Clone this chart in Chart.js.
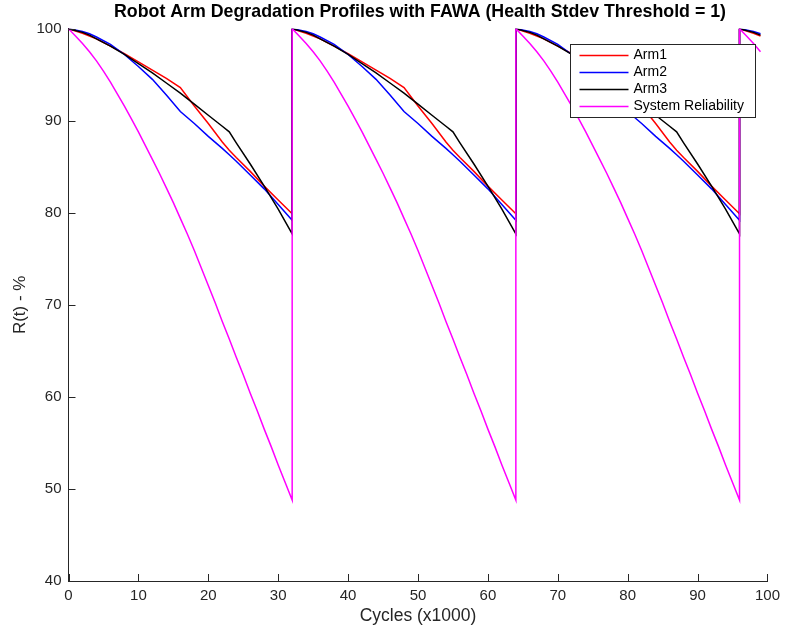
<!DOCTYPE html>
<html>
<head>
<meta charset="utf-8">
<title>Robot Arm Degradation Profiles</title>
<script src="https://cdn.jsdelivr.net/npm/chart.js@4.4.1/dist/chart.umd.min.js"></script>
<style>
  html, body { margin: 0; padding: 0; background: #fff; }
  #wrap { width: 786px; height: 629px; }
</style>
</head>
<body>
<div id="wrap"><canvas id="chart" width="786" height="629"></canvas></div>
<script>
// one maintenance cycle (x1000 cycles since the last reset)
const armX      = [0, 2, 3, 4, 6, 8, 10, 12, 14, 16, 18, 20, 22, 23, 24, 26, 28, 30, 32];
const arm1Cycle = [100, 99.5, 99.2, 98.9, 98.1, 97.3, 96.4, 95.5, 94.6, 93.6, 91.6, 89.7, 87.7, 86.8, 86.0, 84.5, 82.9, 81.4, 79.9];
const arm2Cycle = [100, 99.7, 99.45, 99.1, 98.3, 97.2, 95.9, 94.5, 92.8, 91.0, 89.7, 88.3, 87.0, 86.3, 85.6, 84.1, 82.6, 80.9, 79.2];
const arm3Cycle = [100, 99.6, 99.3, 98.9, 98.1, 97.2, 96.2, 95.2, 94.1, 93.0, 91.8, 90.6, 89.4, 88.8, 87.6, 85.3, 82.9, 80.4, 77.7];

// system curve is smooth, so it is read at every 1k cycles
const systemX     = [0, 1, 2, 3, 4, 5, 6, 7, 8, 9, 10, 11, 12, 13, 14, 15, 16,
                     17, 18, 19, 20, 21, 22, 23, 24, 25, 26, 27, 28, 29, 30, 31, 32];
const systemCycle = [100, 99.2, 98.4, 97.5, 96.5, 95.4, 94.2, 92.9, 91.6, 90.2, 88.8, 87.3, 85.8, 84.3, 82.7, 81.1, 79.4,
                     77.7, 75.9, 74.0, 72.1, 70.2, 68.2, 66.3, 64.3, 62.4, 60.4, 58.5, 56.5, 54.6, 52.6, 50.7, 48.8];

// resets happen every 32k cycles, the run stops at 99k
const cycleStarts = [0, 32, 64, 96];
const lastCycle = 99;

const seriesNames  = ['Arm1', 'Arm2', 'Arm3', 'System Reliability'];
const seriesColors = ['#ff0000', '#0000ff', '#000000', '#ff00ff'];

const xTicks = [0, 10, 20, 30, 40, 50, 60, 70, 80, 90, 100];
const yTicks = [40, 50, 60, 70, 80, 90, 100];

const titleText = 'Robot Arm Degradation Profiles with FAWA (Health Stdev Threshold = 1)';
const axisColor = '#262626';
const fontFamily = '"Liberation Sans", Arial, sans-serif';

// 주기 데이터를 x/y 포인트로 펼치기
function unroll(xs, values) {
    const pts = [];
    cycleStarts.forEach(s => {
        xs.forEach((cx, i) => {
            if (s + cx <= lastCycle) pts.push({ x: s + cx, y: values[i] });
        });
    });
    return pts;
}

const seriesPoints = [
    unroll(armX, arm1Cycle),
    unroll(armX, arm2Cycle),
    unroll(armX, arm3Cycle),
    unroll(systemX, systemCycle)
];

// title centred over the plot box, as in the original figure
const plotTitle = {
    id: 'plotTitle',
    afterDraw(chart) {
        const { ctx, chartArea } = chart;
        ctx.save();
        ctx.font = 'bold 17.8px ' + fontFamily;
        ctx.fillStyle = '#000000';
        ctx.textAlign = 'center';
        ctx.textBaseline = 'middle';
        ctx.fillText(titleText, (chartArea.left + chartArea.right) / 2 + 2, 12);
        ctx.restore();
    }
};

// inward tick marks
const innerTicks = {
    id: 'innerTicks',
    afterDatasetsDraw(chart) {
        const { ctx, chartArea, scales } = chart;
        const len = 7;
        ctx.save();
        ctx.strokeStyle = axisColor;
        ctx.lineWidth = 1;
        ctx.beginPath();
        xTicks.forEach(v => {
            const px = Math.round(scales.x.getPixelForValue(v)) + 0.5;
            ctx.moveTo(px, chartArea.bottom);
            ctx.lineTo(px, chartArea.bottom - len);
        });
        yTicks.forEach(v => {
            const py = Math.round(scales.y.getPixelForValue(v)) + 0.5;
            ctx.moveTo(chartArea.left, py);
            ctx.lineTo(chartArea.left + len, py);
        });
        ctx.stroke();
        ctx.restore();
    }
};

// boxed legend in the upper right corner
const boxLegend = {
    id: 'boxLegend',
    afterDraw(chart) {
        const ctx = chart.ctx;
        const left = 570.5, top = 44.5, w = 185, h = 73;
        ctx.save();
        ctx.fillStyle = '#ffffff';
        ctx.fillRect(left, top, w, h);
        ctx.strokeStyle = axisColor;
        ctx.lineWidth = 1;
        ctx.strokeRect(left, top, w, h);
        ctx.font = '14px ' + fontFamily;
        ctx.textBaseline = 'middle';
        chart.data.datasets.forEach((ds, i) => {
            const y = top + 11 + i * 17;
            ctx.strokeStyle = ds.borderColor;
            ctx.lineWidth = 1.5;
            ctx.beginPath();
            ctx.moveTo(left + 9, y);
            ctx.lineTo(left + 58, y);
            ctx.stroke();
            ctx.fillStyle = '#000000';
            ctx.fillText(ds.label, left + 63, y);
        });
        ctx.restore();
    }
};

const datasets = seriesNames.map((name, i) => ({
    label: name,
    data: seriesPoints[i],
    borderColor: seriesColors[i],
    backgroundColor: seriesColors[i],
    borderWidth: 1.5,
    pointRadius: 0,
    tension: 0,
    fill: false,
    order: seriesNames.length - i
}));

new Chart(document.getElementById('chart'), {
    type: 'line',
    data: { datasets: datasets },
    options: {
        responsive: false,
        animation: false,
        events: [],
        layout: { padding: { top: 28.7, right: 17.5, bottom: 0, left: 0 } },
        scales: {
            x: {
                type: 'linear',
                min: 0,
                max: 100,
                afterBuildTicks: s => { s.ticks = xTicks.map(v => ({ value: v })); },
                afterFit: s => { s.height = 48; },
                grid: { display: false, drawTicks: false },
                border: { display: true, color: axisColor, width: 1 },
                ticks: {
                    padding: 6,
                    color: axisColor,
                    maxRotation: 0,
                    autoSkip: false,
                    font: { family: fontFamily, size: 15 }
                },
                title: {
                    display: true,
                    text: 'Cycles (x1000)',
                    color: axisColor,
                    padding: { top: 0, bottom: 2 },
                    font: { family: fontFamily, size: 17.5 }
                }
            },
            y: {
                type: 'linear',
                min: 40,
                max: 100,
                afterBuildTicks: s => { s.ticks = yTicks.map(v => ({ value: v })); },
                afterFit: s => { s.width = 68.5; },
                grid: { display: false, drawTicks: false },
                border: { display: true, color: axisColor, width: 1 },
                ticks: {
                    padding: 7,
                    color: axisColor,
                    autoSkip: false,
                    font: { family: fontFamily, size: 15 }
                },
                title: {
                    display: true,
                    text: 'R(t) - %',
                    color: axisColor,
                    padding: { top: 10, bottom: 0 },
                    font: { family: fontFamily, size: 17 }
                }
            }
        },
        plugins: {
            legend: { display: false },
            tooltip: { enabled: false },
            title: { display: false }
        }
    },
    plugins: [innerTicks, boxLegend, plotTitle]
});
</script>
</body>
</html>
